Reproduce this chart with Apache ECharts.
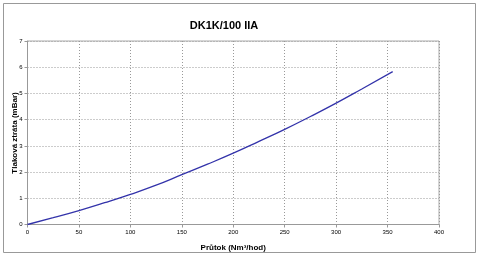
<!DOCTYPE html>
<html><head><meta charset="utf-8">
<script src="https://cdn.jsdelivr.net/npm/echarts@6/dist/echarts.min.js"></script>
<style>html,body{margin:0;padding:0;background:#fff}#c{width:480px;height:257px}</style>
</head><body><div id="c"></div>
<script>
const flowValues = [0, 25, 50, 75, 100, 125, 150, 175, 200, 225, 250, 275, 300, 325, 355];
const lossValues = [0, 0.26, 0.53, 0.83, 1.15, 1.5, 1.9, 2.3, 2.72, 3.17, 3.63, 4.12, 4.63, 5.17, 5.83];
const titleText = 'DK1K/100 IIA';
const xName = 'Průtok (Nm³/hod)';
const yName = 'Tlaková ztráta (mBar)';

const chart = echarts.init(document.getElementById('c'), null, {renderer: 'canvas'});
const ff = '"Liberation Sans", Arial, sans-serif';
chart.setOption({
  animation: false,
  backgroundColor: '#fff',
  title: {text: titleText, left: 219, top: 15, textAlign: 'center',
    textStyle: {fontFamily: ff, fontSize: 11, fontWeight: 'bold', color: '#000'}},
  graphic: [
    {type: 'rect', shape: {x: 3.5, y: 3.5, width: 472, height: 249},
      style: {fill: 'none', stroke: '#999', lineWidth: 1}, silent: true},
    {type: 'text', x: 15, y: 133, rotation: Math.PI / 2,
      style: {text: yName, font: 'bold 8px "Liberation Sans", Arial, sans-serif', fill: '#000',
        align: 'center', verticalAlign: 'middle'}, silent: true}
  ],
  grid: {left: 27.5, right: 41, top: 41, bottom: 32.5, show: true, borderColor: '#aaa', borderWidth: 1,
    containLabel: false, outerBoundsMode: 'none'},
  xAxis: {type: 'value', min: 0, max: 400, interval: 50,
    name: xName, nameLocation: 'middle', nameGap: 19,
    nameTextStyle: {fontFamily: ff, fontSize: 8, fontWeight: 'bold', color: '#000'},
    axisLine: {lineStyle: {color: '#999'}},
    axisTick: {show: true, length: 3, lineStyle: {color: '#999'}},
    axisLabel: {fontFamily: ff, fontSize: 6, color: '#000', margin: 5},
    splitLine: {show: true, lineStyle: {color: '#999', type: [1, 2], width: 1}}},
  yAxis: {type: 'value', min: 0, max: 7, interval: 1,
    axisLine: {show: true, lineStyle: {color: '#999'}},
    axisTick: {show: true, length: 3, lineStyle: {color: '#999'}},
    axisLabel: {fontFamily: ff, fontSize: 6, color: '#000', margin: 5},
    splitLine: {show: true, lineStyle: {color: '#999', type: [1, 2], width: 1}}},
  series: [{type: 'line', data: flowValues.map((x, i) => [x, lossValues[i]]),
    smooth: true, showSymbol: false, lineStyle: {color: '#3333aa', width: 1.3}}]
});
</script></body></html>
